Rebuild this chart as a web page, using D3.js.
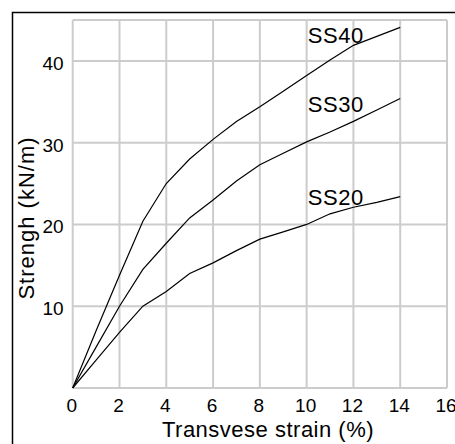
<!DOCTYPE html>
<html lang="en">
<head>
    <meta charset="UTF-8">
    <title>Strength vs strain</title>
    <script src="https://d3js.org/d3.v7.min.js"></script>
    <style>
        body { margin: 0; background: #fff; }
        text { font-family: Arial, "Liberation Sans", sans-serif; fill: #000; }
    </style>
</head>
<body>
    <script>
// strain (%) readings
const strain = [0, 1, 2, 3, 4, 5, 6, 7, 8, 9, 10, 11, 12, 13, 14];

// strength (kN/m) per geotextile
const ss40 = [0, 7, 13.8, 20.4, 25, 28, 30.4, 32.6, 34.4, 36.3, 38.2, 40.1, 41.9, 43, 44.1];
const ss30 = [0, 5, 10, 14.5, 17.7, 20.8, 23, 25.3, 27.3, 28.7, 30.1, 31.3, 32.6, 34, 35.4];
const ss20 = [0, 3.4, 6.8, 10, 11.8, 14, 15.3, 16.8, 18.2, 19.1, 20, 21.3, 22.1, 22.7, 23.4];

const seriesNames = ["SS40", "SS30", "SS20"];
const seriesValues = [ss40, ss30, ss20];

// where the curve names sit (data units)
const labelX = [10.05, 10.05, 10.05];
const labelY = [42.2, 33.8, 22.4];

const xTicks = [0, 2, 4, 6, 8, 10, 12, 14, 16];
const yTicks = [10, 20, 30, 40];

const width = 455, height = 444;

const svg = d3.select("body").append("svg")
    .attr("width", width)
    .attr("height", height);

// outer frame (only top and left edges are visible)
svg.append("rect")
    .attr("x", 12.5).attr("y", 12.5)
    .attr("width", 460).attr("height", 460)
    .attr("fill", "none")
    .attr("stroke", "#000")
    .attr("stroke-width", 1.5);

const x = d3.scaleLinear().domain([0, 16]).range([72.7, 447]);
const y = d3.scaleLinear().domain([0, 45]).range([388, 20]);

// grid
const grid = svg.append("g")
    .attr("stroke", "#cccccc")
    .attr("stroke-width", 2);

grid.selectAll("line.v")
    .data(xTicks)
    .enter().append("line")
    .attr("x1", d => x(d)).attr("x2", d => x(d))
    .attr("y1", y(0)).attr("y2", y(45));

grid.selectAll("line.h")
    .data([0].concat(yTicks, [45]))
    .enter().append("line")
    .attr("x1", x(0)).attr("x2", x(16))
    .attr("y1", d => y(d)).attr("y2", d => y(d));

// tick labels
svg.selectAll("text.xt")
    .data(xTicks)
    .enter().append("text")
    .attr("x", d => x(d) - 1)
    .attr("y", y(0) + 24)
    .attr("text-anchor", "middle")
    .attr("font-size", 19)
    .text(d => d);

svg.selectAll("text.yt")
    .data(yTicks)
    .enter().append("text")
    .attr("x", x(0) - 9)
    .attr("y", d => y(d) + 9)
    .attr("text-anchor", "end")
    .attr("font-size", 19)
    .text(d => d);

// curves
const line = d3.line()
    .x((d, i) => x(strain[i]))
    .y(d => y(d));

svg.selectAll("path.curve")
    .data(seriesValues)
    .enter().append("path")
    .attr("d", d => line(d))
    .attr("fill", "none")
    .attr("stroke", "#000")
    .attr("stroke-width", 1.2);

// curve names
svg.selectAll("text.lbl")
    .data(seriesNames)
    .enter().append("text")
    .attr("x", (d, i) => x(labelX[i]))
    .attr("y", (d, i) => y(labelY[i]))
    .attr("font-size", 22)
    .attr("letter-spacing", 0.5)
    .text(d => d);

// axis titles
svg.append("text")
    .attr("x", 268)
    .attr("y", 437)
    .attr("text-anchor", "middle")
    .attr("font-size", 22)
    .attr("letter-spacing", 0.5)
    .text("Transvese strain (%)");

svg.append("text")
    .attr("transform", "translate(34,218) rotate(-90)")
    .attr("text-anchor", "middle")
    .attr("font-size", 22)
    .attr("letter-spacing", 1)
    .text("Strengh (kN/m)");
    </script>
</body>
</html>
